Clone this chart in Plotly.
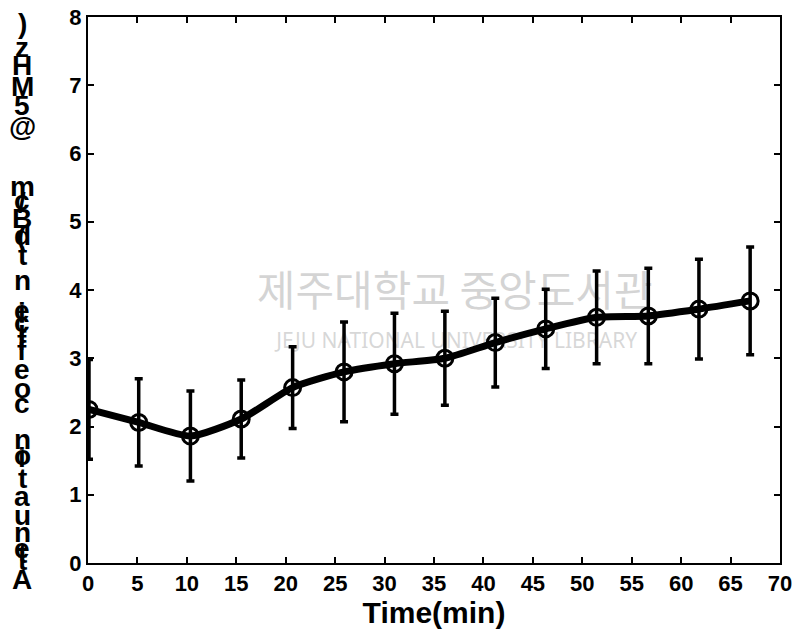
import plotly.graph_objects as go

# ---- data ----
time_min = [0.1, 5.13, 10.36, 15.5, 20.7, 25.9, 31.0, 36.1, 41.2, 46.3, 51.45, 56.68, 61.8, 66.98]
atten = [2.25, 2.06, 1.86, 2.11, 2.57, 2.80, 2.92, 3.00, 3.23, 3.43, 3.60, 3.62, 3.72, 3.84]
err = [0.73, 0.64, 0.66, 0.57, 0.60, 0.73, 0.74, 0.69, 0.65, 0.58, 0.68, 0.70, 0.73, 0.79]

x_ticks = list(range(0, 75, 5))
y_ticks = list(range(0, 9))

x_title = "Time(min)"
y_title = "Attenuation coefficient(dB/cm @5MHz)"
wm_kr = "제주대학교 중앙도서관"
wm_en = "JEJU NATIONAL UNIVERSITY LIBRARY"

FONT = "Liberation Sans, Arial, sans-serif"

# plot-area geometry (pixels) for layout of the stacked y label
W, H = 798, 636
L, R, T, B = 88, 18, 17, 73
pw, ph = W - L - R, H - T - B

fig = go.Figure()

# faint watermark (drawn first so the data sits on top)
fig.add_trace(go.Scatter(
    x=[37.1, 37.3], y=[3.92, 3.22], mode="text",
    text=[wm_kr, wm_en],
    textfont=dict(family=["Noto Sans CJK KR", "Noto Sans"], size=[42, 21],
                  color=["rgba(170,170,170,0.5)", "rgba(175,175,175,0.5)"]),
    hoverinfo="skip", showlegend=False,
))

fig.add_trace(go.Scatter(
    x=time_min, y=atten, mode="lines+markers",
    line=dict(color="black", width=7, shape="spline", smoothing=0.6),
    marker=dict(symbol="circle-open", size=16, color="black",
                line=dict(color="black", width=3)),
    error_y=dict(type="data", array=err, visible=True, color="black",
                 thickness=3.5, width=4),
    hoverinfo="x+y", showlegend=False,
))

# stacked, reversed y-axis label (characters placed top to bottom)
chars_top_down = [c for c in reversed(y_title)]
centers = [24, 47, 65, 86, 106, 127, None, 186, 200, 202, 218, 235, 236, 255, 280, 310, 312,
           322, 330, 340, 350, 370, 388, 404, None, 439, 455, 457, 478, 496, 515, 532, 548,
           553, 560, 580]
annotations = []
for ch, cy in zip(chars_top_down, centers):
    if cy is None or ch == " ":
        continue
    annotations.append(dict(
        text="<b>%s</b>" % ch, xref="paper", yref="paper",
        x=(22 - L) / pw, y=(H - B - cy) / ph,
        xanchor="center", yanchor="middle", showarrow=False,
        font=dict(family=FONT, size=28, color="black"),
    ))

axis_common = dict(
    showline=True, linecolor="black", linewidth=2, mirror="ticks",
    ticks="inside", ticklen=6, tickwidth=1.5, tickcolor="black",
    showgrid=False, zeroline=False, automargin=False,
    tickfont=dict(family=FONT, size=22, color="black", weight="bold"),
)

fig.update_layout(
    width=W, height=H,
    margin=dict(l=L, r=R, t=T, b=B, autoexpand=False),
    paper_bgcolor="white", plot_bgcolor="white",
    xaxis=dict(range=[0, 70], tickvals=x_ticks, ticktext=[str(v) for v in x_ticks],
               title=dict(text="<b>%s</b>" % x_title, standoff=4,
                          font=dict(family=FONT, size=30, color="black")),
               **axis_common),
    yaxis=dict(range=[0, 8], tickvals=y_ticks, ticktext=[str(v) for v in y_ticks],
               **axis_common),
    annotations=annotations,
)

fig.write_html("out.html", config={"displayModeBar": False},
               post_script="document.body.style.margin='0';document.body.style.padding='0';")
